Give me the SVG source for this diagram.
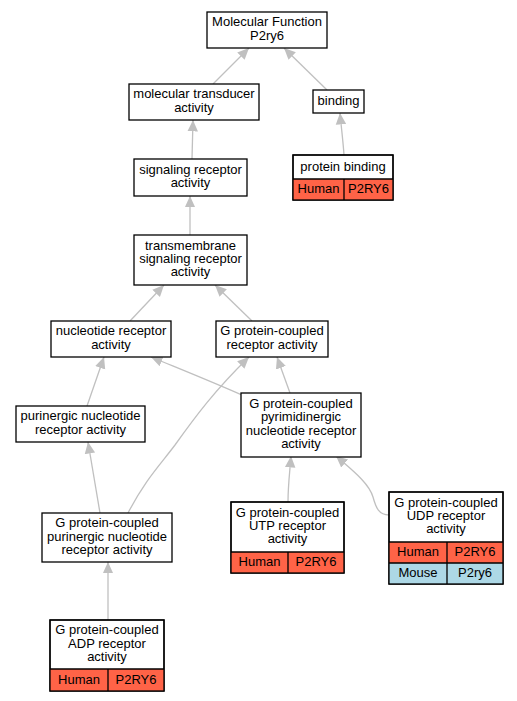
<svg xmlns="http://www.w3.org/2000/svg" width="517" height="701" viewBox="0 0 517 701">
<style>
text{font-family:"Liberation Sans",Arial,sans-serif;font-size:13px;text-anchor:middle;fill:#000}
.box{fill:#fff;stroke:#000;stroke-width:1.3}
.ln{stroke:#000;stroke-width:1.3;fill:none}
.hu{fill:#ff6347}
.mo{fill:#add8e6}
.e{fill:none;stroke:#c0c0c0;stroke-width:1.3;marker-end:url(#ah)}
</style>
<defs>
<marker id="ah" markerUnits="userSpaceOnUse" markerWidth="12" markerHeight="12" viewBox="0 -5 11 10" refX="10.5" refY="0" orient="auto">
<path d="M0,-4.8 L10.5,0 L0,4.8 z" fill="#c0c0c0"/>
</marker>
</defs>
<rect width="517" height="701" fill="#fff"/>
<g id="edges">
<path class="e" d="M213,84 L249,48"/>
<path class="e" d="M327,90 L284,48"/>
<path class="e" d="M192,159 L193,120"/>
<path class="e" d="M344,155 C343,140 341,125 340,113"/>
<path class="e" d="M190,235 L190,196"/>
<path class="e" d="M130,321 L164,285"/>
<path class="e" d="M252,321 L215,285"/>
<path class="e" d="M87,406 L104,357"/>
<path class="e" d="M244,396 C215,383 180,369 151,357"/>
<path class="e" d="M290,393 L277,357"/>
<path class="e" d="M100,513 L88,442"/>
<path class="e" d="M128,513 C145,480 160,465 175,445 C195,417 215,390 249,357"/>
<path class="e" d="M108,620 L108,562"/>
<path class="e" d="M288,502 C288,485 290,470 291,456"/>
<path class="e" d="M389,515 C379,515 376,508 373,497 C369,483 352,470 336,456"/>
</g>
<g id="mf">
<rect class="box" x="207" y="12" width="120" height="36"/>
<text x="267" y="26.4">Molecular Function</text>
<text x="267" y="39.7">P2ry6</text>
</g>
<g id="transducer">
<rect class="box" x="129" y="84" width="130" height="36"/>
<text x="194" y="98.4">molecular transducer</text>
<text x="194" y="111.7">activity</text>
</g>
<g id="binding">
<rect class="box" x="313" y="90" width="51" height="23"/>
<text x="338.5" y="105">binding</text>
</g>
<g id="signaling">
<rect class="box" x="134" y="159" width="113" height="37"/>
<text x="190.5" y="173.9">signaling receptor</text>
<text x="190.5" y="187.2">activity</text>
</g>
<g id="proteinbinding">
<rect class="box" x="293" y="155" width="100" height="45"/>
<rect class="hu" x="293" y="179" width="100" height="21"/>
<rect class="ln" x="293" y="155" width="100" height="45"/>
<line class="ln" x1="293" y1="179" x2="393" y2="179"/>
<line class="ln" x1="344" y1="179" x2="344" y2="200"/>
<text x="343" y="170.5">protein binding</text>
<text x="318.5" y="193">Human</text>
<text x="368.5" y="193">P2RY6</text>
</g>
<g id="transmembrane">
<rect class="box" x="134" y="235" width="113" height="50"/>
<text x="190.5" y="249.5">transmembrane</text>
<text x="190.5" y="262.8">signaling receptor</text>
<text x="190.5" y="276.1">activity</text>
</g>
<g id="nucleotide">
<rect class="box" x="51" y="321" width="120" height="36"/>
<text x="111" y="335.4">nucleotide receptor</text>
<text x="111" y="348.7">activity</text>
</g>
<g id="gpcr">
<rect class="box" x="216" y="321" width="112" height="36"/>
<text x="272" y="335.4">G protein-coupled</text>
<text x="272" y="348.7">receptor activity</text>
</g>
<g id="purinergic">
<rect class="box" x="16" y="406" width="129" height="36"/>
<text x="80.5" y="420.4">purinergic nucleotide</text>
<text x="80.5" y="433.7">receptor activity</text>
</g>
<g id="pyrimidinergic">
<rect class="box" x="241" y="393" width="120" height="64"/>
<text x="301" y="408">G protein-coupled</text>
<text x="301" y="421.3">pyrimidinergic</text>
<text x="301" y="434.6">nucleotide receptor</text>
<text x="301" y="447.9">activity</text>
</g>
<g id="gpcrpurinergic">
<rect class="box" x="42" y="513" width="130" height="49"/>
<text x="107" y="527.2">G protein-coupled</text>
<text x="107" y="540.5">purinergic nucleotide</text>
<text x="107" y="553.8">receptor activity</text>
</g>
<g id="utp">
<rect class="box" x="231" y="502" width="113" height="71"/>
<rect class="hu" x="231" y="552" width="113" height="21"/>
<rect class="ln" x="231" y="502" width="113" height="71"/>
<line class="ln" x1="231" y1="552" x2="344" y2="552"/>
<line class="ln" x1="288" y1="552" x2="288" y2="573"/>
<text x="287.5" y="516.7">G protein-coupled</text>
<text x="287.5" y="530">UTP receptor</text>
<text x="287.5" y="543.3">activity</text>
<text x="259.5" y="566">Human</text>
<text x="316" y="566">P2RY6</text>
</g>
<g id="udp">
<rect class="box" x="389" y="492" width="114" height="92"/>
<rect class="hu" x="389" y="542" width="114" height="21"/>
<rect class="mo" x="389" y="563" width="114" height="21"/>
<rect class="ln" x="389" y="492" width="114" height="92"/>
<line class="ln" x1="389" y1="542" x2="503" y2="542"/>
<line class="ln" x1="389" y1="563" x2="503" y2="563"/>
<line class="ln" x1="447" y1="542" x2="447" y2="584"/>
<text x="446" y="506.7">G protein-coupled</text>
<text x="446" y="520">UDP receptor</text>
<text x="446" y="533.3">activity</text>
<text x="418" y="556">Human</text>
<text x="475" y="556">P2RY6</text>
<text x="418" y="577">Mouse</text>
<text x="475" y="577">P2ry6</text>
</g>
<g id="adp">
<rect class="box" x="50" y="620" width="114" height="71"/>
<rect class="hu" x="50" y="669" width="114" height="22"/>
<rect class="ln" x="50" y="620" width="114" height="71"/>
<line class="ln" x1="50" y1="669" x2="164" y2="669"/>
<line class="ln" x1="108" y1="669" x2="108" y2="691"/>
<text x="107" y="634.2">G protein-coupled</text>
<text x="107" y="647.5">ADP receptor</text>
<text x="107" y="660.8">activity</text>
<text x="79" y="683.8">Human</text>
<text x="136" y="683.8">P2RY6</text>
</g>
</svg>
